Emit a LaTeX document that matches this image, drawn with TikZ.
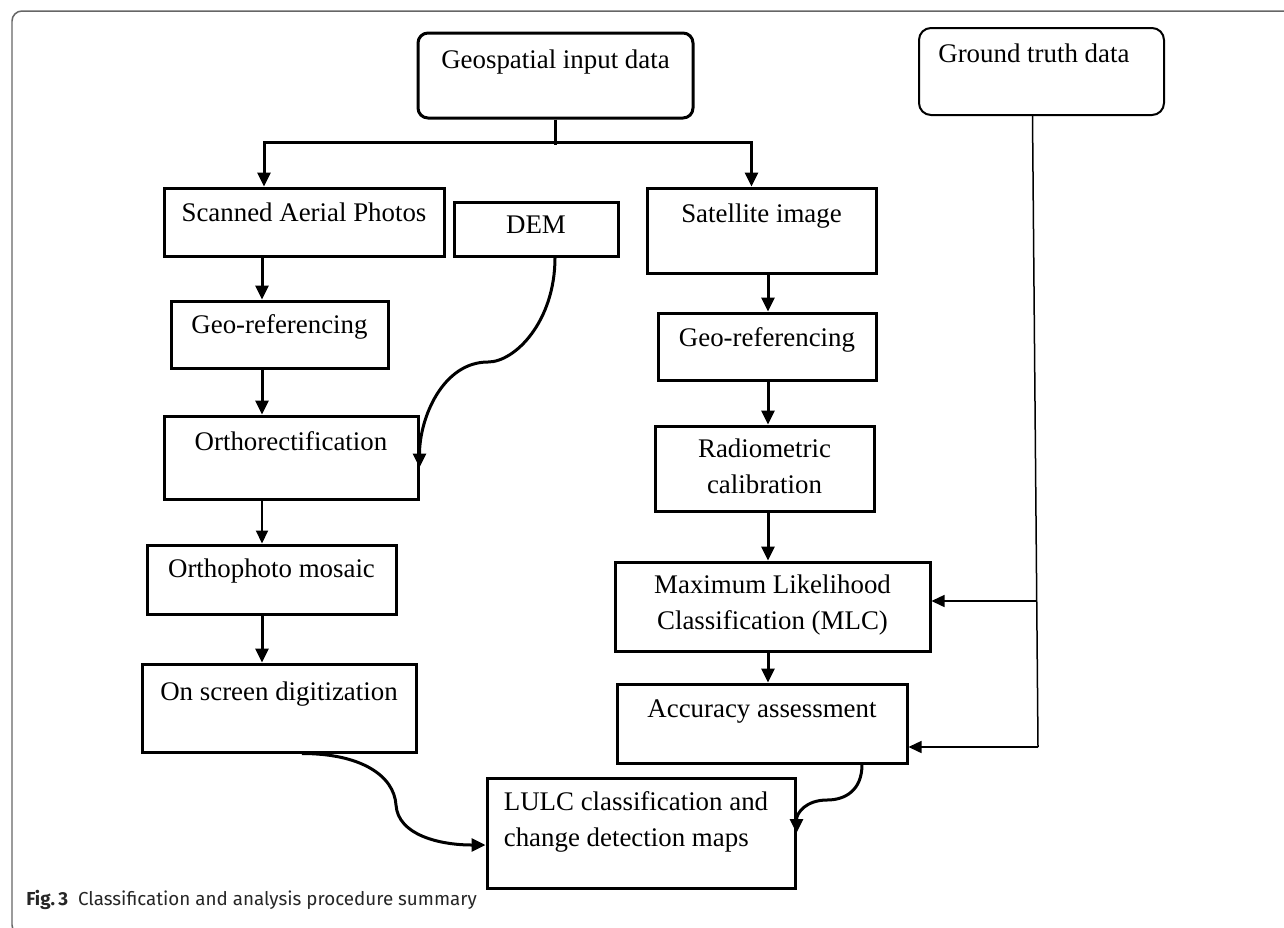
\documentclass[tikz,border=0pt]{standalone}
\usepackage{fontspec}
\setmainfont{Liberation Serif}
\newfontfamily\capfont{Fira Sans}
\usetikzlibrary{arrows.meta,fit,calc}

\begin{document}
\begin{tikzpicture}[x=0.02cm, y=-0.02cm,
        box/.style = {draw, line width=0.06cm, inner sep=0pt},
        rbox/.style = {box, rounded corners=0.2cm},
        txt/.style = {anchor=base, inner sep=0pt, align=center,
                      font=\fontsize{15.3pt}{20.5pt}\selectfont},
        conn/.style = {line width=0.06cm},
        arrow/.style = {conn, -{Triangle[length=0.28cm,width=0.26cm]}},
        thinarrow/.style = {line width=0.03cm, -{Triangle[length=0.26cm,width=0.24cm]}}]

        % Page and frame
        \clip (0,0) rectangle (1284,927);
        \fill[white] (0,0) rectangle (1284,927);
        \draw[black!60, line width=0.03cm, rounded corners=0.2cm] (1300,11) -- (12,11) -- (12,935) -- (1300,935);

        % Input data
        \node[rbox, fit={(418,33) (693,118)}] (geo) {};
        \node[txt] (geo-t) at ($(geo.north)+(0,37)$) {Geospatial input data};
        \node[rbox, line width=0.04cm, rounded corners=0.24cm, fit={(919,28) (1164,115)}] (gt) {};
        \node[txt, anchor=base west] (gt-t) at ($(gt.north west)+(20,35)$) {Ground truth data};

        % Aerial photo branch
        \node[box, fit={(164,188) (444,256)}] (scan) {};
        \node[txt] (scan-t) at ($(scan.north)+(0,35)$) {Scanned Aerial Photos};
        \node[box, fit={(454,202) (618,256)}] (dem) {};
        \node[txt] (dem-t) at ($(dem.north)+(0,33)$) {DEM};
        \node[box, fit={(171,301) (388,368)}] (geoL) {};
        \node[txt] (geoL-t) at ($(geoL.north)+(0,34)$) {Geo-referencing};
        \node[box, fit={(164,416) (418,499)}] (ortho) {};
        \node[txt] (ortho-t) at ($(ortho.north)+(0,36)$) {Orthorectification};
        \node[box, fit={(147,545) (396,614)}] (mosaic) {};
        \node[txt] (mosaic-t) at ($(mosaic.north)+(0,34)$) {Orthophoto mosaic};
        \node[box, fit={(142,664) (416,752)}] (digit) {};
        \node[txt] (digit-t) at ($(digit.north)+(0,38)$) {On screen digitization};

        % Satellite branch
        \node[box, fit={(647,188) (876,273)}] (sat) {};
        \node[txt] (sat-t) at ($(sat.north)+(0,36)$) {Satellite image};
        \node[box, fit={(658,313) (876,380)}] (geoR) {};
        \node[txt] (geoR-t) at ($(geoR.north)+(0,35)$) {Geo-referencing};
        \node[box, fit={(655,426) (874,511)}] (rad) {};
        \node[txt] (rad-t) at ($(rad.north)+(0,69)$) {Radiometric\\calibration};
        \node[box, fit={(615,562) (930,651)}] (mlc) {};
        \node[txt] (mlc-t) at ($(mlc.north)+(0,69)$) {Maximum Likelihood\\Classification (MLC)};
        \node[box, fit={(617,684) (907,763)}] (acc) {};
        \node[txt] (acc-t) at ($(acc.north)+(0,35)$) {Accuracy assessment};

        % Output
        \node[box, fit={(487,778) (795,888)}] (lulc) {};
        \node[txt, anchor=base west, align=left] (lulc-t) at ($(lulc.north west)+(18,70)$) {LULC classification and\\change detection maps};

        % Split of the input data
        \coordinate (split) at (555,142);
        \draw[conn] (geo.south -| split) -- ($(split)+(0,3)$);
        \draw[arrow] (split) -| ($(scan.north)+(-40,0)$);
        \draw[arrow] (split) -| ($(sat.north)+(-10,0)$);

        % Left column
        \coordinate (colL) at (262,0);
        \draw[arrow] (scan.south -| colL) -- (geoL.north -| colL);
        \draw[arrow] (geoL.south -| colL) -- (ortho.north -| colL);
        \draw[line width=0.04cm, -{Triangle[length=0.26cm,width=0.24cm]}] (ortho.south -| colL) -- (mosaic.north -| colL);
        \draw[arrow] (mosaic.south -| colL) -- (digit.north -| colL);

        % DEM into orthorectification
        \coordinate (demmid) at (488,362);
        \draw[arrow] ($(dem.south)+(19,0)$) .. controls +(0,64) and +(27,0) .. (demmid)
            .. controls +(-45,0) and +(0,-50) .. ($(ortho.east)+(0,10)$);

        % Right column
        \coordinate (colR) at (768,0);
        \draw[arrow] (sat.south -| colR) -- (geoR.north -| colR);
        \draw[arrow] (geoR.south -| colR) -- (rad.north -| colR);
        \draw[arrow] (rad.south -| colR) -- (mlc.north -| colR);
        \draw[arrow] (mlc.south -| colR) -- (acc.north -| colR);

        % Ground truth
        \coordinate (gtmlc) at (1037,601);
        \coordinate (gtacc) at (1038,747);
        \draw[line width=0.03cm] ($(gt.south)+(-9,0)$) -- (gtacc);
        \draw[thinarrow] (gtmlc) -- (gtmlc -| mlc.east);
        \draw[thinarrow] (gtacc) -- (gtacc -| acc.east);

        % Into the maps
        \coordinate (digmid) at (396,805);
        \draw[arrow] ($(digit.south)+(23,0)$) .. controls +(58,0) and +(-2,-30) .. (digmid)
            .. controls +(2,30) and +(-46,0) .. ($(lulc.west)+(0,12)$);
        \coordinate (accmid) at (827,800);
        \draw[arrow] ($(acc.south)+(100,0)$) .. controls +(0,26) and +(18,0) .. (accmid)
            .. controls +(-21,0) and +(0,-20) .. (lulc.east);

        % Caption
        \node[anchor=base west, inner sep=0pt, text=black!85,
              font=\capfont\fontsize{10.7pt}{12pt}\selectfont] (cap) at (26,905)
              {\textbf{Fig.\,3}\hspace{0.2cm}Classification and analysis procedure summary};

    \end{tikzpicture}
\end{document}
